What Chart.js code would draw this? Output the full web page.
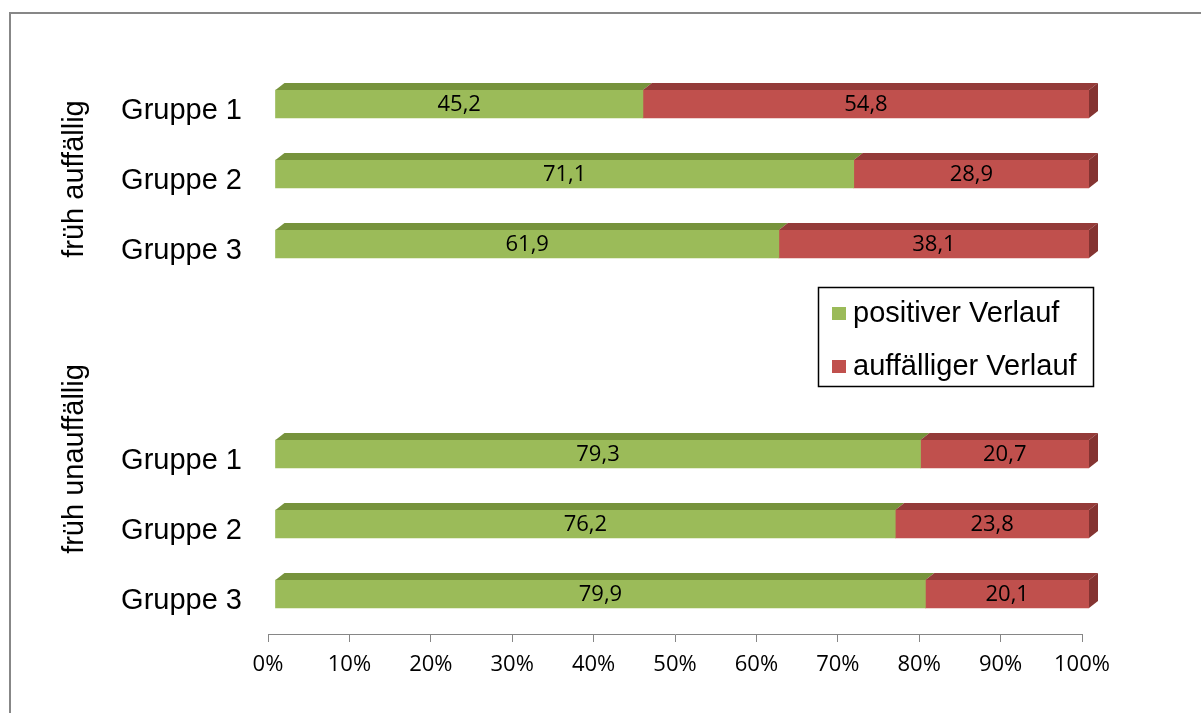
<!DOCTYPE html>
<html lang="de">
<head>
<meta charset="utf-8">
<title>Verlauf nach Gruppen</title>
<script src="https://cdn.jsdelivr.net/npm/chart.js@4.4.1/dist/chart.umd.min.js"></script>
<style>
    html, body { margin: 0; padding: 0; background: #ffffff; }
    #wrap { width: 1201px; height: 713px; position: relative; }
</style>
</head>
<body>
<div id="wrap"><canvas id="chart" width="1201" height="713"></canvas></div>
<script>
// Kategorien (zwei leere Zeilen trennen die beiden Blöcke)
const kategorien = ['Gruppe 1', 'Gruppe 2', 'Gruppe 3', '', '', 'Gruppe 1', 'Gruppe 2', 'Gruppe 3'];
const gruppenTitel = ['früh auffällig', 'früh unauffällig'];
const gruppenZeile = [1, 5]; // Zeile, an der der Gruppentitel mittig steht

// Anteile in Prozent
const positiverVerlauf = [45.2, 71.1, 61.9, null, null, 79.3, 76.2, 79.9];
const auffaelligerVerlauf = [54.8, 28.9, 38.1, null, null, 20.7, 23.8, 20.1];

const xTicks = [0, 10, 20, 30, 40, 50, 60, 70, 80, 90, 100];

// Farben: Vorderseite, Oberseite, Seitenfläche
const farben = {
    gruen: { front: '#9BBB59', top: '#77933C', side: '#6B8536' },
    rot: { front: '#C0504D', top: '#943B39', side: '#843331' }
};

const ARIAL = '"Liberation Sans", Arial, sans-serif';
const CALIBRI = '"Open Sans", Calibri, sans-serif';

// Versatz der Balken (Perspektive) und Tiefe der 3D-Flächen
const versatz = { x: 7, y: -5 };
const tiefe = { x: 9, y: 7 };

const balken3d = {
    id: 'balken3d',
    beforeDraw(chart) {
        // Rahmen um das Diagramm
        const ctx = chart.ctx;
        ctx.save();
        ctx.strokeStyle = '#878787';
        ctx.lineWidth = 2;
        ctx.beginPath();
        ctx.moveTo(10, 713);
        ctx.lineTo(10, 13);
        ctx.lineTo(1201, 13);
        ctx.stroke();
        ctx.restore();
    },
    beforeDatasetsDraw(chart) {
        chart.ctx.save();
        chart.ctx.translate(versatz.x, versatz.y);
    },
    afterDatasetsDraw(chart) {
        const ctx = chart.ctx;
        const anzahl = chart.data.datasets.length;

        chart.data.datasets.forEach((ds, i) => {
            const meta = chart.getDatasetMeta(i);
            meta.data.forEach((bar, j) => {
                if (ds.data[j] == null) return;
                const p = bar.getProps(['x', 'y', 'base', 'height'], true);
                const oben = p.y - p.height / 2;
                const unten = p.y + p.height / 2;

                // Oberseite
                ctx.fillStyle = ds.farbSatz.top;
                ctx.beginPath();
                ctx.moveTo(p.base, oben);
                ctx.lineTo(p.x, oben);
                ctx.lineTo(p.x + tiefe.x, oben - tiefe.y);
                ctx.lineTo(p.base + tiefe.x, oben - tiefe.y);
                ctx.closePath();
                ctx.fill();

                // Seitenfläche nur am rechten Ende
                if (i === anzahl - 1) {
                    ctx.fillStyle = ds.farbSatz.side;
                    ctx.beginPath();
                    ctx.moveTo(p.x, oben);
                    ctx.lineTo(p.x + tiefe.x, oben - tiefe.y);
                    ctx.lineTo(p.x + tiefe.x, unten - tiefe.y);
                    ctx.lineTo(p.x, unten);
                    ctx.closePath();
                    ctx.fill();
                }

                // Wert in der Mitte des Balkens
                ctx.fillStyle = '#000000';
                ctx.font = '22px ' + CALIBRI;
                ctx.textAlign = 'center';
                ctx.textBaseline = 'middle';
                ctx.fillText(ds.data[j].toFixed(1).replace('.', ','), (p.base + p.x) / 2, p.y + 1);
            });
        });
        ctx.restore();
    },
    afterDraw(chart) {
        const ctx = chart.ctx;
        const yScale = chart.scales.y;

        // Gruppentitel, um 90° gedreht
        ctx.save();
        ctx.fillStyle = '#000000';
        ctx.font = '29px ' + ARIAL;
        ctx.textAlign = 'center';
        ctx.textBaseline = 'middle';
        gruppenTitel.forEach((titel, k) => {
            const y = yScale.getPixelForValue(gruppenZeile[k]);
            ctx.save();
            ctx.translate(75, y);
            ctx.rotate(-Math.PI / 2);
            ctx.fillText(titel, 0, 0);
            ctx.restore();
        });
        ctx.restore();

        // Legende im Diagrammbereich
        ctx.save();
        ctx.strokeStyle = '#000000';
        ctx.lineWidth = 1.5;
        ctx.strokeRect(818.5, 287.5, 275, 99);
        ctx.font = '29px ' + ARIAL;
        ctx.textAlign = 'left';
        ctx.textBaseline = 'middle';
        chart.data.datasets.forEach((ds, i) => {
            const y = 313 + i * 53;
            ctx.fillStyle = ds.backgroundColor;
            ctx.fillRect(832, y - 6, 14, 13);
            ctx.fillStyle = '#000000';
            ctx.fillText(ds.label, 853, y + 1);
        });
        ctx.restore();
    }
};

const ctx = document.getElementById('chart').getContext('2d');

new Chart(ctx, {
    type: 'bar',
    data: {
        labels: kategorien,
        datasets: [
            {
                label: 'positiver Verlauf',
                data: positiverVerlauf,
                backgroundColor: farben.gruen.front,
                farbSatz: farben.gruen,
                barThickness: 28,
                borderWidth: 0
            },
            {
                label: 'auffälliger Verlauf',
                data: auffaelligerVerlauf,
                backgroundColor: farben.rot.front,
                farbSatz: farben.rot,
                barThickness: 28,
                borderWidth: 0
            }
        ]
    },
    options: {
        indexAxis: 'y',
        responsive: false,
        animation: false,
        layout: {
            padding: { top: 74, right: 119, bottom: 0, left: 0 }
        },
        plugins: {
            legend: { display: false },
            tooltip: { enabled: false }
        },
        scales: {
            x: {
                stacked: true,
                min: 0,
                max: 100,
                afterBuildTicks: (scale) => {
                    scale.ticks = xTicks.map(v => ({ value: v }));
                },
                afterFit: (scale) => { scale.height = 79; },
                ticks: {
                    callback: (v) => v + '%',
                    color: '#000000',
                    font: { family: CALIBRI, size: 22 },
                    padding: 10,
                    maxRotation: 0
                },
                grid: {
                    drawOnChartArea: false,
                    drawTicks: true,
                    tickLength: 8,
                    color: '#868686'
                },
                border: { display: true, color: '#868686', width: 1 }
            },
            y: {
                stacked: true,
                afterFit: (scale) => { scale.width = 268; },
                ticks: {
                    color: '#000000',
                    font: { family: ARIAL, size: 29 },
                    padding: 26,
                    labelOffset: 2
                },
                grid: { display: false, drawTicks: false },
                border: { display: false }
            }
        }
    },
    plugins: [balken3d]
});
</script>
</body>
</html>
